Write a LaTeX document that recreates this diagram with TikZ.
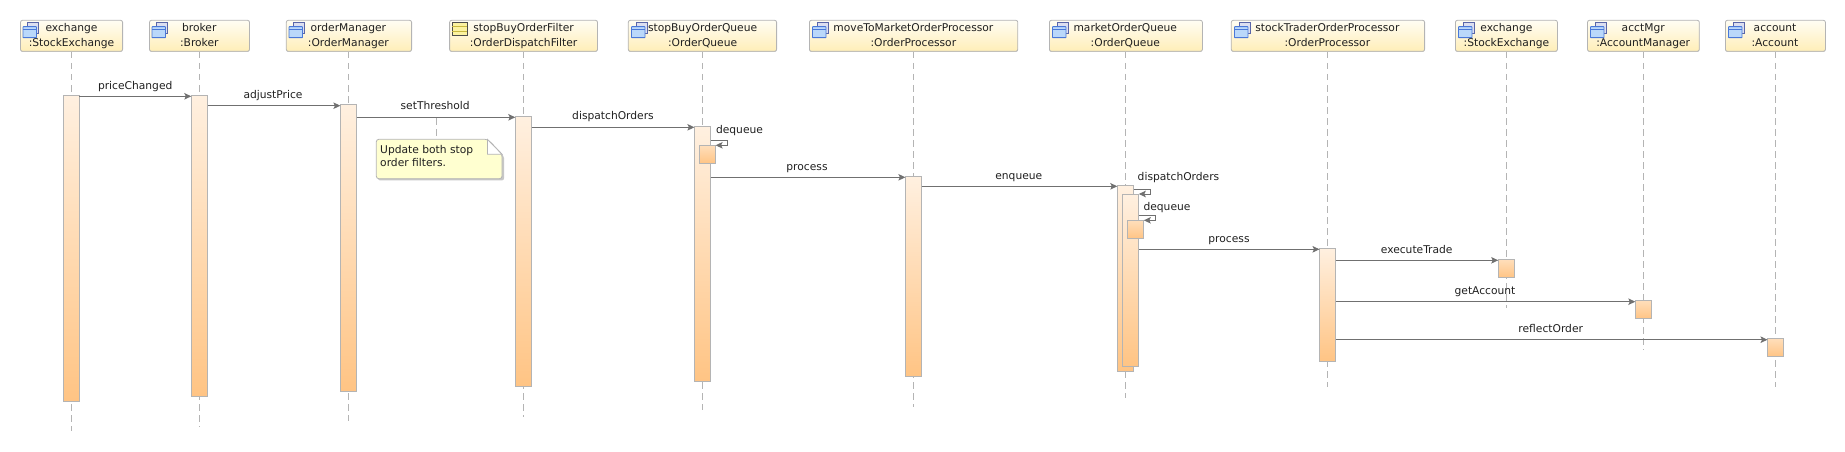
\documentclass[tikz,border=0pt]{standalone}
\usepackage{fontspec}
\setmainfont{DejaVu Sans}
\usetikzlibrary{arrows.meta,shadows,calc}
\definecolor{linegray}{HTML}{707070}
\definecolor{edgegray}{HTML}{B4B4B4}
\definecolor{actlight}{HTML}{FFF0E0}
\definecolor{actdark}{HTML}{FFC484}
\definecolor{headlight}{HTML}{FFFDF3}
\definecolor{headdark}{HTML}{FFEEB8}
\definecolor{iconblue}{HTML}{4A78D8}
\definecolor{iconfront}{HTML}{BAD8FA}
\definecolor{iconback}{HTML}{DCDFF0}
\definecolor{iconbackedge}{HTML}{5A66A8}
\definecolor{filterfill}{HTML}{FBF2A0}
\definecolor{filterline}{HTML}{C8B840}
\definecolor{notefill}{HTML}{FFFFD0}
\tikzset{
  x=1pt,y=-1pt,
  every node/.style={font=\fontsize{10.7}{12}\selectfont,text=black!88,text height=8pt,text depth=2pt},
  headbox/.style={draw=edgegray,line width=.8pt,rounded corners=2pt,top color=headlight,bottom color=headdark,inner sep=0pt,outer sep=0pt,minimum height=31pt,text height=,text depth=,
    general shadow={fill=black!20,shadow xshift=0pt,shadow yshift=-.7pt}},
  life/.style={draw=edgegray,line width=.6pt,dash pattern=on 6.5pt off 4.5pt},
  actbar/.style={draw=edgegray,line width=.9pt,top color=actlight,bottom color=actdark,inner sep=0pt,outer sep=0pt,text height=,text depth=},
  actsmall/.style={draw=edgegray,line width=.9pt,top color=actlight!60!actdark,bottom color=actdark,inner sep=0pt,outer sep=0pt,text height=,text depth=},
  msg/.style={draw=linegray,line width=.9pt,-{Stealth[length=7pt,width=6.5pt,inset=1.5pt]}},
  msglabel/.style={inner sep=0pt},
  notelink/.style={draw=edgegray,line width=.7pt,dash pattern=on 6.5pt off 4.5pt},
}
% head: name, left, right, lifeline x, text 1, text 2
\newcommand{\headobj}[6]{%
  \node[headbox,minimum width={#3-#2}] (#1) at ({(#2+#3)/2},35.8) {};
  \node[anchor=center,inner sep=0pt] (#1t) at (#4,28.3) {#5};
  \node[anchor=center,inner sep=0pt] (#1u) at (#4,43.2) {#6};
}
\newcommand{\iconobj}[1]{%
  \begin{scope}[shift={(#1)}]
    \filldraw[draw=iconbackedge,fill=iconback,line width=.7pt] (4.5,2) rectangle (15.5,13);
    \filldraw[draw=iconblue,fill=iconfront,line width=.9pt,rounded corners=.5pt] (0,6.5) rectangle (13.5,17.5);
    \draw[draw=iconblue,line width=.7pt] (0,9.5) -- (13.5,9.5);
  \end{scope}
}
% activation: name, x1, y1, x2, y2, style
\newcommand{\actobj}[6]{%
  \node[#6,minimum width={#4-#2},minimum height={#5-#3}] (#1) at ({(#2+#4)/2},{(#3+#5)/2}) {};
}
% message: from, to, y, label x, label y, text
\newcommand{\msgobj}[6]{%
  \coordinate (my) at (0,#3);
  \draw[msg] (#1.east |- my) -- (#2.west |- my);
  \node[msglabel] (#1#2l) at (#4,{#5+0.8}) {#6};
}
% self message: from, to, y1, y2, x
\newcommand{\selfobj}[5]{%
  \coordinate (myA) at (#5,#3);
  \coordinate (myB) at (#5,#4);
  \draw[msg] (#1.east |- myA) -- (myA) -- (myB) -- (#2.east |- myB);
}
\begin{document}
\begin{tikzpicture}
\useasboundingbox (0,0) rectangle (1845,452);

% lifelines
\foreach \n/\x/\e in {a/71.5/431.3,b/199.3/427,c/348.4/420.7,d/523.5/417,e/702.6/410,f/913.4/406.7,g/1125.3/398.3,h/1327.4/387.3,i/1506.4/308.3,j/1643.2/349.3,k/1775/387.3}{
  \coordinate (\n end) at (\x,\e);
  \coordinate (\n top) at (\x,52);
  \draw[life] (\n top) -- (\n end);
}

% heads
\headobj{a}{20.5}{122.6}{71.5}{exchange}{:StockExchange}
\headobj{b}{149.5}{249.5}{199.3}{broker}{:Broker}
\headobj{c}{286.3}{411.6}{348.4}{orderManager}{:OrderManager}
\headobj{d}{449.6}{597.5}{523.5}{stopBuyOrderFilter}{:OrderDispatchFilter}
\headobj{e}{628.3}{776.6}{702.6}{stopBuyOrderQueue}{:OrderQueue}
\headobj{f}{809.4}{1017.8}{913.4}{moveToMarketOrderProcessor}{:OrderProcessor}
\headobj{g}{1049.4}{1202.4}{1125.3}{marketOrderQueue}{:OrderQueue}
\headobj{h}{1231.3}{1424.6}{1327.4}{stockTraderOrderProcessor}{:OrderProcessor}
\headobj{i}{1455.4}{1557.4}{1506.4}{exchange}{:StockExchange}
\headobj{j}{1587.5}{1699.3}{1643.2}{acctMgr}{:AccountManager}
\headobj{k}{1725.4}{1825.4}{1775}{account}{:Account}

% icons
\foreach \x in {23,152,289,631.5,812.5,1052.5,1234.5,1458.5,1590.5,1728.5}{
  \iconobj{\x,20.2}
}
\filldraw[draw=black!70,fill=filterfill,line width=.8pt] (452,22.7) rectangle (467,35.3);
\draw[draw=filterline,line width=.6pt] (452,26.5) -- (467,26.5) (452,31.5) -- (467,31.5);

% activations
\actobj{aa}{63.2}{95.3}{79.4}{401.3}{actbar}
\actobj{ab}{191.3}{95.3}{207.5}{396.3}{actbar}
\actobj{ac}{340.4}{104.3}{356.6}{391.7}{actbar}
\actobj{ad}{515.3}{116.3}{531.5}{386.3}{actbar}
\actobj{ae}{694.4}{126.3}{710.6}{381.7}{actbar}
\actobj{ae2}{699.2}{145.3}{715.6}{163.7}{actsmall}
\actobj{af}{905.4}{176.3}{921.6}{376.3}{actbar}
\actobj{ag}{1117.3}{185.3}{1133.7}{371.7}{actbar}
\actobj{ag2}{1122.6}{194.3}{1138.8}{366.3}{actbar}
\actobj{ag3}{1127.4}{220.3}{1143.8}{238.7}{actsmall}
\actobj{ah}{1319.5}{248.3}{1335.7}{361.3}{actbar}
\actobj{ai}{1498.2}{259.3}{1514.6}{277.7}{actsmall}
\actobj{aj}{1635.3}{300.3}{1651.5}{318.7}{actsmall}
\actobj{ak}{1767.5}{338.3}{1783.7}{356.7}{actsmall}

% messages
\msgobj{aa}{ab}{96.3}{135.2}{85.3}{priceChanged}
\msgobj{ab}{ac}{105.7}{273}{94.3}{adjustPrice}
\msgobj{ac}{ad}{117.3}{435.2}{106}{setThreshold}
\msgobj{ad}{ae}{127.3}{613}{116}{dispatchOrders}
\msgobj{ae}{af}{177.3}{807}{166.3}{process}
\msgobj{af}{ag}{186.3}{1018.8}{175.3}{enqueue}
\msgobj{ag2}{ah}{249.3}{1229}{238.3}{process}
\msgobj{ah}{ai}{260.3}{1416.7}{249.3}{executeTrade}
\msgobj{ah}{aj}{301.7}{1485}{290.3}{getAccount}
\msgobj{ah}{ak}{339.7}{1550.7}{328.3}{reflectOrder}

% self messages
\selfobj{ae}{ae2}{140.3}{145.3}{727.5}
\node[msglabel] (sl1) at (739.5,130.6) {dequeue};
\selfobj{ag}{ag2}{189.3}{194}{1150.4}
\node[msglabel] (sl2) at (1178.5,177.6) {dispatchOrders};
\selfobj{ag2}{ag3}{215.3}{220.3}{1155.6}
\node[msglabel] (sl3) at (1167,207.9) {dequeue};

% note
\fill[black!22,rounded corners=2pt] (378,141) -- (490,141) -- (504,156) -- (504,180.4) -- (378,180.4) -- cycle;
\filldraw[draw=edgegray,line width=.8pt,fill=notefill,rounded corners=2.5pt] (376.3,139.3) -- (487.4,139.3) -- (502,154.3) -- (502,178.7) -- (376.3,178.7) -- cycle;
\filldraw[draw=edgegray,line width=.8pt,fill=white] (487.4,139.3) -- (487.4,154.3) -- (502,154.3) -- cycle;
\node[anchor=west,inner sep=0pt] (n1) at (380,150.8) {Update both stop};
\node[anchor=west,inner sep=0pt] (n2) at (380,163.5) {order filters.};
\coordinate (nlA) at (436.4,118);
\coordinate (nlB) at (436.4,139);
\draw[notelink] (nlA) -- (nlB);
\end{tikzpicture}
\end{document}
